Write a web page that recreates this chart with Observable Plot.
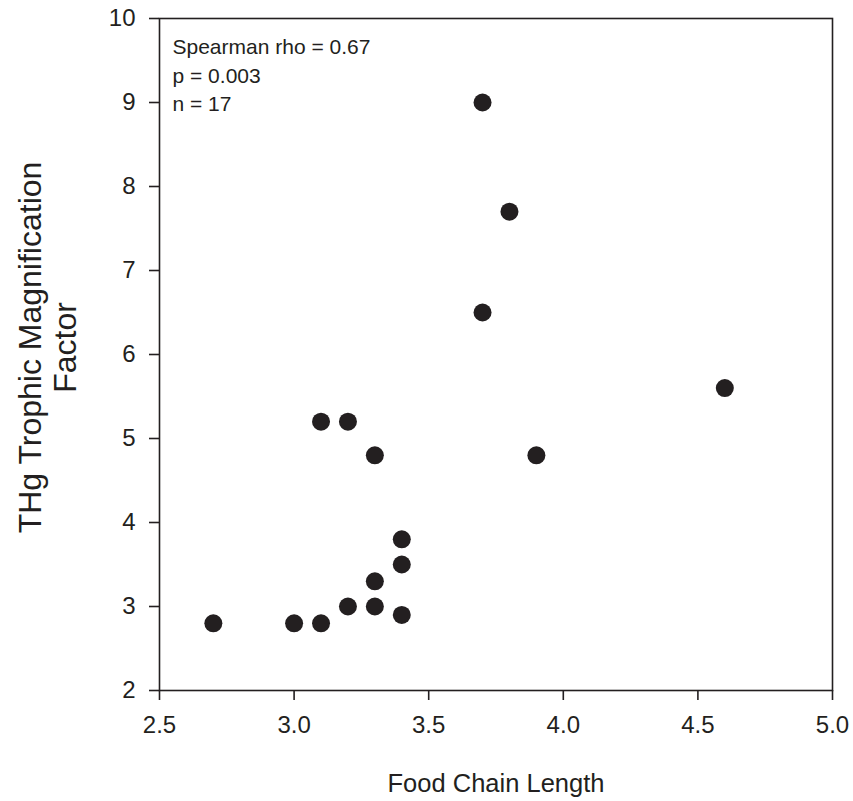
<!DOCTYPE html>
<html><head><meta charset="utf-8">
<script src="https://cdn.jsdelivr.net/npm/d3@7"></script>
<script src="https://cdn.jsdelivr.net/npm/@observablehq/plot@0.6"></script>
<style>body{margin:0;background:#fff;} svg{font-family:"Liberation Sans",Arial,sans-serif;}</style>
</head><body><div id="chart"></div>
<script>
const foodChainLength = [2.7, 3.0, 3.1, 3.2, 3.3, 3.3, 3.4, 3.4, 3.4, 3.3, 3.1, 3.2, 3.7, 3.7, 3.8, 3.9, 4.6];
const thgTMF =          [2.8, 2.8, 2.8, 3.0, 3.0, 3.3, 2.9, 3.5, 3.8, 4.8, 5.2, 5.2, 6.5, 9.0, 7.7, 4.8, 5.6];
const xTicks = [2.5, 3.0, 3.5, 4.0, 4.5, 5.0];
const yTicks = [2, 3, 4, 5, 6, 7, 8, 9, 10];
const statsLines = ["Spearman rho = 0.67", "p = 0.003", "n = 17"];
const xLabel = "Food Chain Length";
const yLabel = "THg Trophic Magnification\nFactor";

const data = foodChainLength.map((x, i) => ({x, y: thgTMF[i]}));
const ink = "#231f20";

const chart = Plot.plot({
  width: 853, height: 801,
  marginLeft: 159, marginRight: 21, marginTop: 18, marginBottom: 111,
  style: {fontFamily: "Liberation Sans, Arial, sans-serif", fontSize: "24px", color: ink, background: "#fff"},
  x: {domain: [2.5, 5.0]},
  y: {domain: [2, 10]},
  marks: [
    Plot.frame({stroke: ink, strokeWidth: 1.6}),
    Plot.axisX({ticks: xTicks, tickFormat: d3.format(".1f"), tickSize: 10, tickPadding: 15, fontSize: 24, stroke: ink, strokeWidth: 1.6, label: null}),
    Plot.axisY({ticks: yTicks, tickFormat: d3.format("d"), tickSize: 10, tickPadding: 14, fontSize: 24, stroke: ink, strokeWidth: 1.6, label: null}),
    Plot.dot(data, {x: "x", y: "y", r: 9, fill: ink, stroke: "none"}),
    Plot.text([statsLines.join("\n")], {frameAnchor: "top-left", dx: 13, dy: 16, fontSize: 21, lineHeight: 1.34, fill: ink, textAnchor: "start"}),
    Plot.text([xLabel], {frameAnchor: "bottom", dy: 101, fontSize: 25.5, fill: ink}),
    Plot.text([yLabel], {frameAnchor: "left", dx: -112, dy: -7, rotate: -90, textAnchor: "middle", fontSize: 32, lineHeight: 1.1, fill: ink})
  ]
});
document.getElementById("chart").appendChild(chart);
</script></body></html>
